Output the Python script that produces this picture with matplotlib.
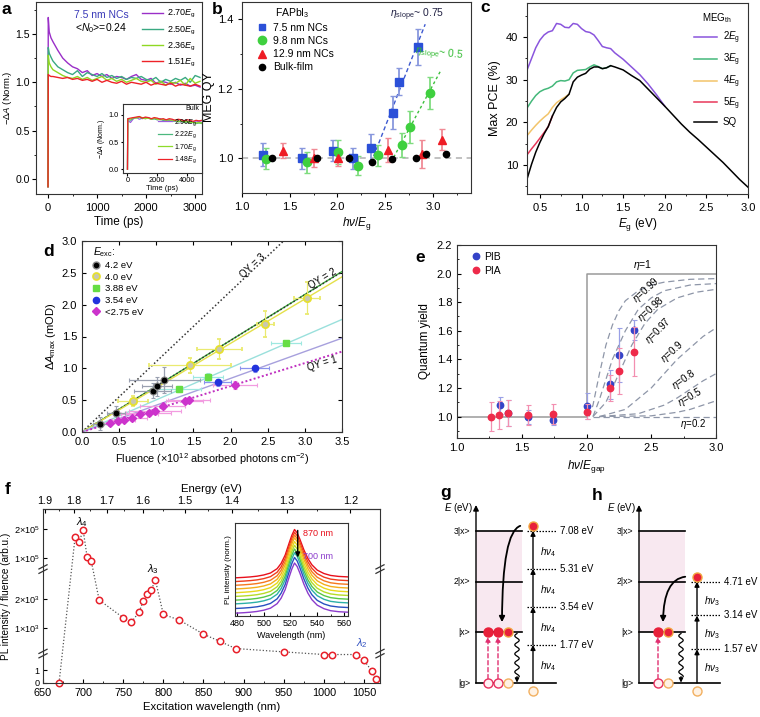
import numpy as np
import matplotlib
matplotlib.use('Agg')
import matplotlib.pyplot as plt
from matplotlib.lines import Line2D
from matplotlib.patches import FancyArrowPatch, Rectangle

plt.rcParams['font.family'] = ['Liberation Sans', 'DejaVu Sans']
plt.rcParams['mathtext.fontset'] = 'custom'
plt.rcParams['mathtext.rm'] = 'Liberation Sans'
plt.rcParams['mathtext.it'] = 'Liberation Sans:italic'
plt.rcParams['mathtext.bf'] = 'Liberation Sans:bold'
plt.rcParams['axes.linewidth'] = 0.8
plt.rcParams['axes.edgecolor'] = '#333333'
plt.rcParams['xtick.major.size'] = 3
plt.rcParams['ytick.major.size'] = 3
plt.rcParams['xtick.minor.size'] = 1.6
plt.rcParams['ytick.minor.size'] = 1.6
plt.rcParams['xtick.labelsize'] = 8
plt.rcParams['ytick.labelsize'] = 8
plt.rcParams['axes.labelsize'] = 8.5

# ===================== DATA =====================
# panel a : transient absorption, 7.5 nm NCs
a_t = [0, 5, 25, 60, 100, 200, 300, 400, 500, 600, 700, 800, 900, 1000, 1100, 1200, 1300, 1400,
       1500, 1600, 1700, 1800, 1900, 2000, 2100, 2200, 2300, 2400, 2500, 2600, 2700, 2800, 2900, 3000, 3100]
a_270 = [-0.08, 1.67, 1.52, 1.46, 1.42, 1.33, 1.25, 1.20, 1.16, 1.14, 1.10, 1.12, 1.07, 1.09, 1.06, 1.08, 1.04, 1.06,
         1.05, 1.03, 1.06, 1.08, 1.03, 1.02, 1.04, 0.99, 1.01, 1.00, 0.98, 1.00, 0.97, 0.99, 0.96, 0.97, 0.95]
a_250 = [-0.08, 1.36, 1.30, 1.26, 1.22, 1.16, 1.13, 1.10, 1.08, 1.12, 1.06, 1.10, 1.08, 1.06, 1.09, 1.05, 1.07, 1.04,
         1.06, 1.03, 1.05, 1.04, 1.06, 1.03, 1.02, 1.05, 1.00, 1.03, 1.01, 1.04, 1.02, 1.05, 1.00, 1.07, 1.05]
a_236 = [-0.08, 1.28, 1.20, 1.16, 1.13, 1.10, 1.07, 1.05, 1.04, 1.06, 1.03, 1.05, 1.02, 1.04, 1.06, 1.02, 1.04, 1.01,
         1.03, 1.00, 1.02, 1.04, 1.01, 1.00, 1.02, 0.98, 1.01, 0.97, 1.00, 0.99, 1.02, 0.97, 1.04, 0.99, 1.01]
a_151 = [-0.08, 1.08, 1.07, 1.06, 1.06, 1.05, 1.04, 1.05, 1.03, 1.04, 1.02, 1.03, 1.01, 1.03, 1.00, 1.02, 1.00, 0.99,
         1.01, 0.98, 1.00, 0.99, 0.98, 1.00, 0.97, 0.99, 0.98, 0.97, 0.99, 0.96, 0.98, 0.97, 0.96, 0.98, 0.96]
a_labels = ['2.70', '2.50', '2.36', '1.51']
# inset: bulk film
ai_t = [0, 20, 200, 400, 600, 800, 1000, 1200, 1400, 1600, 1800, 2000, 2200, 2400, 2600, 2800, 3000,
        3200, 3400, 3600, 3800, 4000, 4200, 4400, 4600, 4800, 5000]
ai_296 = [0, 0.90, 0.86, 0.93, 0.95, 0.92, 0.94, 0.93, 0.95, 0.92, 0.93, 0.91, 0.93, 0.90, 0.91, 0.89, 0.91,
          0.88, 0.90, 0.87, 0.89, 0.88, 0.86, 0.88, 0.87, 0.88, 0.86]
ai_222 = [0, 0.92, 0.90, 0.94, 0.95, 0.96, 0.93, 0.95, 0.94, 0.92, 0.93, 0.91, 0.92, 0.90, 0.89, 0.91, 0.88,
          0.89, 0.87, 0.88, 0.86, 0.87, 0.85, 0.86, 0.84, 0.85, 0.84]
ai_170 = [0, 0.93, 0.92, 0.95, 0.94, 0.96, 0.95, 0.93, 0.94, 0.92, 0.94, 0.92, 0.91, 0.92, 0.90, 0.91, 0.89,
          0.90, 0.88, 0.89, 0.87, 0.88, 0.86, 0.87, 0.85, 0.86, 0.85]
ai_148 = [0, 0.93, 0.94, 0.95, 0.96, 0.97, 0.94, 0.96, 0.95, 0.93, 0.95, 0.94, 0.92, 0.93, 0.91, 0.93, 0.92,
          0.90, 0.92, 0.91, 0.89, 0.91, 0.90, 0.88, 0.90, 0.89, 0.90]
ai_labels = ['2.96', '2.22', '1.70', '1.48']

# panel b : MEG QY vs hv/Eg
b_blue_x = [1.217, 1.626, 1.95, 2.167, 2.352, 2.586, 2.649, 2.848]
b_blue_y = [1.010, 1.000, 1.022, 1.000, 1.031, 1.131, 1.221, 1.321]
b_blue_e = [0.033, 0.030, 0.030, 0.030, 0.040, 0.048, 0.040, 0.052]
b_green_x = [1.252, 1.678, 2.003, 2.220, 2.429, 2.674, 2.761, 2.970]
b_green_y = [0.999, 0.989, 1.019, 0.979, 1.009, 1.039, 1.090, 1.188]
b_green_e = [0.030, 0.030, 0.035, 0.028, 0.030, 0.035, 0.045, 0.045]
b_red_x = [1.434, 1.755, 2.010, 2.534, 2.883, 3.093]
b_red_y = [1.022, 1.001, 1.002, 1.023, 1.012, 1.054]
b_red_e = [0.022, 0.025, 0.025, 0.035, 0.040, 0.030]
b_blk_x = [1.318, 1.783, 2.122, 2.359, 2.569, 2.824, 2.925, 3.138]
b_blk_y = [1.000, 1.000, 1.000, 0.989, 0.999, 1.000, 1.011, 1.011]
b_fit_blue_x = [2.38, 2.92]
b_fit_blue_y = [1.006, 1.386]
b_fit_green_x = [2.59, 3.09]
b_fit_green_y = [1.003, 1.256]

# panel c : max PCE
c_eg = [0.35, 0.4, 0.45, 0.5, 0.55, 0.6, 0.65, 0.7, 0.75, 0.8, 0.85, 0.9, 0.95, 1.0, 1.05, 1.1, 1.15, 1.2, 1.25,
        1.3, 1.35, 1.4, 1.5, 1.6, 1.7, 1.8, 1.9, 2.0, 2.1, 2.2, 2.3, 2.4, 2.5, 2.6, 2.7, 2.8, 2.9, 3.0]
c_sq = [7.0, 10.2, 13.0, 15.3, 17.3, 19.0, 21.5, 23.5, 24.8, 25.6, 26.6, 29.5, 30.6, 31.1, 31.5, 32.5, 33.0, 33.0,
        32.6, 32.8, 33.3, 33.0, 32.3, 31.0, 29.8, 27.8, 25.8, 23.8, 21.7, 19.6, 17.7, 16.0, 14.2, 12.4, 10.6, 8.6, 6.6, 4.8]
c_2eg = [32.5, 35.0, 37.5, 39.3, 40.5, 41.2, 41.5, 43.2, 43.0, 42.3, 42.2, 43.2, 43.0, 42.0, 41.3, 41.1, 40.5, 39.2,
         37.8, 37.5, 37.3, 36.3, 34.8, 33.0, 31.2, 29.0, 26.5, 23.8]
c_3eg = [23.5, 25.0, 26.3, 27.2, 27.7, 28.0, 28.5, 29.5, 29.8, 29.7, 30.0, 31.6, 32.2, 32.3, 32.4, 33.0, 33.5, 33.1,
         32.6, 32.8, 33.3]
c_4eg = [17.0, 18.2, 19.3, 20.3, 21.2, 22.0, 23.5, 24.6, 25.3, 25.9, 26.6]
c_5eg = [12.5, 13.8, 15.0, 16.3, 17.6, 19.0, 21.5]

# panel d : dA_max vs fluence
d_k_x = [0.247, 0.46, 0.95, 1.01, 1.11]
d_k_y = [0.13, 0.305, 0.65, 0.716, 0.816]
d_k_xe = [0.10, 0.12, 0.25, 0.20, 0.48]
d_k_ye = [0.10, 0.10, 0.12, 0.15, 0.20]
d_y_x = [0.686, 1.45, 1.85, 2.47, 3.03]
d_y_y = [0.49, 1.05, 1.305, 1.70, 2.105]
d_y_xe = [0.20, 0.55, 0.30, 0.12, 0.18]
d_y_ye = [0.08, 0.12, 0.16, 0.20, 0.25]
d_g_x = [1.30, 1.70, 2.745]
d_g_y = [0.674, 0.868, 1.395]
d_g_xe = [0.30, 0.20, 0.20]
d_g_ye = [0.05, 0.06, 0.03]
d_b_x = [1.826, 2.324]
d_b_y = [0.779, 1.00]
d_b_xe = [0.18, 0.20]
d_b_ye = [0.05, 0.05]
d_m_x = [0.38, 0.48, 0.56, 0.67, 0.776, 0.897, 0.987, 1.086, 1.38, 1.44, 2.06]
d_m_y = [0.147, 0.174, 0.19, 0.226, 0.279, 0.295, 0.33, 0.41, 0.49, 0.505, 0.742]
d_m_xe = [0.12, 0.10, 0.15, 0.20, 0.25, 0.30, 0.35, 0.30, 0.25, 0.28, 0.30]
d_m_ye = [0.04, 0.04, 0.04, 0.05, 0.05, 0.05, 0.05, 0.05, 0.05, 0.05, 0.06]
d_line_end = {'QY3': 3.87, 'QY2': 2.516, 'QY1': 1.263, 'k': 2.52, 'y': 2.437, 'g': 1.768, 'b': 1.474}
d_legend = ['4.2 eV', '4.0 eV', '3.88 eV', '3.54 eV', '<2.75 eV']

# panel e : quantum yield
e_pib_x = [1.33, 1.39, 1.55, 1.74, 2.0, 2.18, 2.25, 2.37]
e_pib_y = [1.08, 1.025, 0.998, 0.979, 1.073, 1.225, 1.43, 1.605]
e_pib_e = [0.06, 0.09, 0.05, 0.04, 0.09, 0.10, 0.19, 0.07]
e_pia_x = [1.265, 1.325, 1.39, 1.55, 1.74, 2.0, 2.18, 2.25, 2.37]
e_pia_y = [1.0, 1.01, 1.026, 1.012, 1.02, 1.035, 1.198, 1.318, 1.455]
e_pia_e = [0.10, 0.10, 0.09, 0.07, 0.07, 0.05, 0.09, 0.16, 0.17]
e_eta1_x = [1.0, 2.0, 2.0, 3.0]
e_eta1_y = [1.0, 1.0, 2.0, 2.0]
e_curves = {
    '0.99': ([2.02, 2.05, 2.1, 2.15, 2.2, 2.25, 2.3, 2.4, 2.5, 2.6, 2.8, 3.0],
             [1.0, 1.08, 1.3, 1.5, 1.64, 1.74, 1.81, 1.88, 1.92, 1.94, 1.96, 1.965]),
    '0.98': ([2.05, 2.1, 2.2, 2.3, 2.4, 2.5, 2.6, 2.8, 3.0],
             [1.0, 1.12, 1.4, 1.6, 1.75, 1.83, 1.88, 1.92, 1.93]),
    '0.97': ([2.05, 2.15, 2.25, 2.35, 2.45, 2.55, 2.7, 2.85, 3.0],
             [1.0, 1.1, 1.3, 1.5, 1.65, 1.75, 1.83, 1.87, 1.89]),
    '0.9': ([2.1, 2.3, 2.5, 2.6, 2.7, 2.8, 2.9, 3.0],
            [1.0, 1.05, 1.2, 1.3, 1.4, 1.48, 1.56, 1.62]),
    '0.8': ([2.1, 2.4, 2.6, 2.7, 2.8, 2.9, 3.0],
            [1.0, 1.02, 1.08, 1.13, 1.19, 1.25, 1.30]),
    '0.5': ([2.1, 2.5, 2.7, 2.8, 2.9, 3.0],
            [1.0, 1.005, 1.03, 1.05, 1.08, 1.11]),
    '0.2': ([2.05, 3.0], [1.0, 1.0]),
}

# panel f : PLE spectrum
f_wl = [670, 690, 695, 700, 705, 710, 720, 750, 760, 770, 775, 780, 785, 790, 800, 820, 850, 870, 890,
        950, 1000, 1010, 1040, 1050, 1060, 1065]
f_pl = [0, 171600, 153400, 196600, 103400, 92000, 1976, 1353, 1188, 1565, 1953, 2176, 2329, 2682, 1471, 1271,
        776, 529, 271, 153, 2.24, 2.24, 2.24, 1.79, 0.92, 0.34]
f_yticks = [0, 1, 1000, 2000, 100000, 200000]
f_ylabels = ['0', '1', '1×10$^3$', '2×10$^3$', '1×10$^5$', '2×10$^5$']
f_eticks = [1.9, 1.8, 1.7, 1.6, 1.5, 1.4, 1.3, 1.2]
# inset PL spectra (870 nm ... 700 nm excitation)
pl_wl = [478, 485, 490, 495, 500, 505, 510, 513, 516, 519, 521, 523, 525, 527, 530, 533, 536, 540, 545, 550, 556, 563]
pl_shape = [0.0, 0.01, 0.02, 0.035, 0.06, 0.10, 0.19, 0.30, 0.47, 0.72, 0.88, 1.0, 0.93, 0.80, 0.58, 0.40, 0.27,
            0.16, 0.09, 0.05, 0.03, 0.02]
pl_base = [0.41, 0.37, 0.33, 0.29, 0.25, 0.21, 0.17, 0.13, 0.08, 0.03]
pl_peak = [0.93, 0.90, 0.87, 0.84, 0.80, 0.76, 0.72, 0.68, 0.63, 0.57]

# panels g, h : energy diagrams (eV)
lev_E = [0.0, 2.35, 4.70, 7.05]
lev_names = ['|g>', '|x>', '2|x>', '3|x>']
g_photon = [1.77, 3.54, 5.31, 7.08]
h_photon = [1.57, 3.14, 4.71]

# ===================== FIGURE =====================
W, H = 760, 717
fig = plt.figure(figsize=(7.6, 7.17), dpi=100)


def rect(x0, y0, x1, y1):
    return [x0 / W, 1 - y1 / H, (x1 - x0) / W, (y1 - y0) / H]


def ftext(x, y, s, **kw):
    fig.text(x / W, 1 - y / H, s, **kw)


for lab, (x, y) in zip('abcdefgh', [(6, 9), (217, 10), (485, 7), (49, 252), (420, 257), (8, 489), (446, 492), (597, 495)]):
    ftext(x, y, lab, fontsize=12.5, fontweight='bold', ha='center', va='center')

EG = r'$\it{E}_\mathrm{g}$'

# ---------- a ----------
axa = fig.add_axes(rect(36, 2, 202, 194))
a_cols = ['#9a2fc8', '#3aa982', '#8fd823', '#ee2228']
for ys, c, lab in zip([a_270, a_250, a_236, a_151], a_cols, a_labels):
    axa.plot(a_t, ys, color=c, lw=1.0, label=lab + EG)
axa.set_xlim(-245, 3140)
axa.set_ylim(-0.155, 1.83)
axa.set_xticks([0, 1000, 2000, 3000])
axa.set_xticks([500, 1500, 2500], minor=True)
axa.set_yticks([0, 0.5, 1.0, 1.5])
axa.set_yticks([0.25, 0.75, 1.25, 1.75], minor=True)
axa.tick_params(which='both', direction='out')
axa.tick_params(axis='y', labelsize=7.6, pad=1.5)
axa.set_xlabel('Time (ps)', labelpad=2)
axa.set_ylabel('−Δ$\\it{A}$ (Norm.)', fontsize=6.8)
axa.yaxis.set_label_coords((14 - 36) / 166, 0.5)
axa.legend(loc='upper right', frameon=False, fontsize=6.5, handlelength=2.3, labelspacing=0.45,
           borderaxespad=0.3, handletextpad=0.5)
ftext(101, 15, '7.5 nm NCs', fontsize=7.5, color='#3a3ab8', ha='center', va='center')
ftext(101, 28, r'<$\it{N}_\mathrm{0}$>=0.24', fontsize=7.5, ha='center', va='center')

axai = fig.add_axes(rect(123, 104, 202, 173))
axai.set_zorder(5)
ai_cols = ['#9a5ce0', '#4cb87e', '#8edb2a', '#ee2228']
for ys, c, lab in zip([ai_296, ai_222, ai_170, ai_148], ai_cols, ai_labels):
    axai.plot(ai_t, ys, color=c, lw=0.9, label=lab + EG)
axai.set_xlim(-300, 5000)
axai.set_ylim(-0.07, 1.2)
axai.set_xticks([0, 2000, 4000])
axai.set_yticks([0.0, 0.5, 1.0])
axai.tick_params(labelsize=5.3, length=1.8, pad=1)
axai.set_xlabel('Time (ps)', fontsize=5.5, labelpad=1)
axai.set_ylabel('−Δ$\\it{A}$ (Norm.)', fontsize=5, labelpad=1)
axai.legend(loc='lower right', frameon=False, fontsize=5, handlelength=2.0, labelspacing=0.25,
            borderaxespad=0.3, handletextpad=0.4, bbox_to_anchor=(1.0, 0.04))
axai.text(0.96, 0.93, 'Bulk', transform=axai.transAxes, fontsize=5, ha='right', va='center')

# ---------- b ----------
axb = fig.add_axes(rect(242, 2, 471, 193))
axb.axhline(1.0, color='#b0b0b0', ls=(0, (4, 3)), lw=1.1, zorder=0)
axb.plot(b_fit_blue_x, b_fit_blue_y, color='#3e5ad0', ls=(0, (3, 2)), lw=1.0, zorder=1)
axb.plot(b_fit_green_x, b_fit_green_y, color='#3cc03c', ls=(0, (2, 2)), lw=1.0, zorder=1)
eb = dict(capsize=2, elinewidth=1.3, capthick=1.0, zorder=3)
axb.errorbar(b_blue_x, b_blue_y, yerr=b_blue_e, fmt='s', color='#2b50d8', ecolor='#8897dd', ms=5.2, **eb)
axb.errorbar(b_green_x, b_green_y, yerr=b_green_e, fmt='o', color='#3fd03f', ecolor='#7fdc7f', ms=6, **eb)
axb.errorbar(b_red_x, b_red_y, yerr=b_red_e, fmt='^', color='#ee1c25', ecolor='#f08a95', ms=6, **eb)
axb.plot(b_blk_x, b_blk_y, 'o', color='black', ms=4.5, zorder=4)
axb.set_xlim(1.0, 3.4)
axb.set_ylim(0.9, 1.45)
axb.set_xticks([1.0, 1.5, 2.0, 2.5, 3.0])
axb.set_xticks([1.25, 1.75, 2.25, 2.75, 3.25], minor=True)
axb.set_yticks([1.0, 1.2, 1.4])
axb.set_yticks([1.1, 1.3], minor=True)
axb.tick_params(which='both', direction='out')
axb.set_xlabel(r'$\it{h\nu}/\it{E}_\mathrm{g}$', labelpad=2)
axb.set_ylabel('MEG QY', fontsize=9, labelpad=2)
hb = [Line2D([], [], marker='s', color='#2b50d8', ls='', ms=5),
      Line2D([], [], marker='o', color='#3fd03f', ls='', ms=6),
      Line2D([], [], marker='^', color='#ee1c25', ls='', ms=6),
      Line2D([], [], marker='o', color='black', ls='', ms=4.5)]
axb.legend(hb, ['7.5 nm NCs', '9.8 nm NCs', '12.9 nm NCs', 'Bulk-film'], loc='upper left',
           bbox_to_anchor=(257 / W, 1 - 23 / H), bbox_transform=fig.transFigure, frameon=False,
           fontsize=7.5, handlelength=1.0, handletextpad=0.5, labelspacing=0.3, borderaxespad=0, borderpad=0)
ftext(275, 13, r'FAPbI$_3$', fontsize=7.5, ha='left', va='center')
ftext(390, 15, r'$\eta_\mathrm{slope}$~ 0.75', fontsize=7.5, ha='left', va='center', color='#222244')
ftext(414, 54, r'$\eta_\mathrm{slope}$~ 0.5', fontsize=7.5, ha='left', va='center', color='#33bb33', rotation=-6)

# ---------- c ----------
axc = fig.add_axes(rect(527, 3, 748, 194))
c_cols = {'2': '#8a55dd', '3': '#44b87a', '4': '#f2c46a', '5': '#e8385a'}
axc.plot(c_eg[:len(c_2eg)], c_2eg, color=c_cols['2'], lw=1.1, label='2' + EG)
axc.plot(c_eg[:len(c_3eg)], c_3eg, color=c_cols['3'], lw=1.1, label='3' + EG)
axc.plot(c_eg[:len(c_4eg)], c_4eg, color=c_cols['4'], lw=1.1, label='4' + EG)
axc.plot(c_eg[:len(c_5eg)], c_5eg, color=c_cols['5'], lw=1.1, label='5' + EG)
axc.plot(c_eg, c_sq, color='black', lw=1.1, label='SQ')
axc.set_xlim(0.345, 3.0)
axc.set_ylim(3.2, 48)
axc.set_xticks([0.5, 1.0, 1.5, 2.0, 2.5, 3.0])
axc.set_xticks([0.75, 1.25, 1.75, 2.25, 2.75], minor=True)
axc.set_yticks([10, 20, 30, 40])
axc.set_yticks([5, 15, 25, 35, 45], minor=True)
axc.tick_params(which='both', direction='out')
axc.set_xlabel(r'$\it{E}_\mathrm{g}$ (eV)', labelpad=2)
axc.set_ylabel('Max PCE (%)', fontsize=9, labelpad=3)
axc.legend(loc='upper right', frameon=False, fontsize=7, title=r'MEG$_\mathrm{th}$', title_fontsize=7,
           handlelength=2.4, labelspacing=0.55, borderaxespad=0.4, handletextpad=0.6)

# ---------- d ----------
axd = fig.add_axes(rect(82, 241, 342, 432))
xx = [0, 3.5]
axd.plot(xx, [0, d_line_end['QY3']], color='#333333', ls=(0, (1, 1.5)), lw=1.1)
axd.plot(xx, [0, d_line_end['k']], color='#3aa83a', lw=1.0)
axd.plot(xx, [0, d_line_end['QY2']], color='#333333', ls=(0, (1, 1.5)), lw=1.1)
axd.plot(xx, [0, d_line_end['y']], color='#e4e04a', lw=1.0)
axd.plot(xx, [0, d_line_end['g']], color='#9ae0dc', lw=1.0)
axd.plot(xx, [0, d_line_end['b']], color='#a7a0dd', lw=1.0)
axd.plot(xx, [0, d_line_end['QY1']], color='#c030c0', ls=(0, (1, 1.2)), lw=1.4)
ebd = dict(capsize=1.5, elinewidth=0.9, capthick=0.8, ls='')
axd.errorbar(d_m_x, d_m_y, xerr=d_m_xe, yerr=d_m_ye, fmt='D', color='#cc33cc', ecolor='#f29ce0', ms=3.8, **ebd)
axd.errorbar(d_b_x, d_b_y, xerr=d_b_xe, yerr=d_b_ye, fmt='o', color='#2233dd', ecolor='#8a92ee', ms=4.5, **ebd)
axd.errorbar(d_g_x, d_g_y, xerr=d_g_xe, yerr=d_g_ye, fmt='s', color='#66dd44', ecolor='#9ee8e0', ms=4.2, **ebd)
axd.errorbar(d_y_x, d_y_y, xerr=d_y_xe, yerr=d_y_ye, fmt='o', mfc='#c8c8b0', mec='#e6e030', mew=1.3,
             ecolor='#eaea70', ms=5.2, **ebd)
axd.errorbar(d_k_x, d_k_y, xerr=d_k_xe, yerr=d_k_ye, fmt='o', mfc='black', mec='#888888', mew=0.8,
             ecolor='#9aa0b0', ms=5, **ebd)
axd.set_xlim(0, 3.5)
axd.set_ylim(0, 3.0)
axd.set_xticks(np.arange(0, 3.51, 0.5))
axd.set_yticks(np.arange(0, 3.01, 0.5))
axd.tick_params(which='both', direction='in', top=True, right=True, labelsize=8)
axd.set_xlabel('Fluence (×10$^{12}$ absorbed photons cm$^{-2}$)', fontsize=7.8, labelpad=3)
axd.set_ylabel(r'Δ$\it{A}_\mathrm{max}$ (mOD)', fontsize=8, labelpad=3)
hd = [Line2D([], [], marker='o', ls='', mfc='black', mec='#888888', ms=5),
      Line2D([], [], marker='o', ls='', mfc='#c8c8b0', mec='#e6e030', mew=1.3, ms=5),
      Line2D([], [], marker='s', ls='', color='#66dd44', ms=4.2),
      Line2D([], [], marker='o', ls='', color='#2233dd', ms=4.5),
      Line2D([], [], marker='D', ls='', color='#cc33cc', ms=3.8)]
axd.legend(hd, d_legend, loc='upper left', bbox_to_anchor=(92 / W, 1 - 261 / H), bbox_transform=fig.transFigure,
           frameon=False, fontsize=6.8, handlelength=0.8, handletextpad=0.6, labelspacing=0.28,
           borderaxespad=0, borderpad=0)
ftext(93, 252, r'$\it{E}_\mathrm{exc}$:', fontsize=7.5, ha='left', va='center')
ftext(253, 266, 'QY = 3', fontsize=7, ha='center', va='center', rotation=43)
ftext(323, 279, 'QY = 2', fontsize=7, ha='center', va='center', rotation=31)
ftext(322, 364, 'QY = 1', fontsize=7, ha='center', va='center', rotation=17)

# ---------- e ----------
axe = fig.add_axes(rect(457, 245, 716, 438))
axe.plot(e_eta1_x, e_eta1_y, color='#9a9a9a', lw=1.1, zorder=1)
for k, (cx, cy) in e_curves.items():
    axe.plot(cx, cy, color='#8e96a8', ls=(0, (5, 3)), lw=0.9, zorder=1)
ebe = dict(capsize=1.8, elinewidth=0.9, capthick=0.8, ls='')
axe.errorbar(e_pia_x, e_pia_y, yerr=e_pia_e, fmt='o', color='#ee2a4a', ecolor='#f38fb0', ms=4.6, zorder=3, **ebe)
axe.errorbar(e_pib_x, e_pib_y, yerr=e_pib_e, fmt='o', color='#3443c8', ecolor='#9aa0e6', ms=4.6, zorder=2, **ebe)
axe.set_xlim(1.0, 3.0)
axe.set_ylim(0.85, 2.2)
axe.set_xticks([1.0, 1.5, 2.0, 2.5, 3.0])
axe.set_xticks([1.25, 1.75, 2.25, 2.75], minor=True)
axe.set_yticks([1.0, 1.2, 1.4, 1.6, 1.8, 2.0, 2.2])
axe.set_yticks(np.arange(0.9, 2.2, 0.2), minor=True)
axe.tick_params(which='both', direction='in', labelsize=8)
axe.set_xlabel(r'$\it{h\nu}/\it{E}_\mathrm{gap}$', labelpad=4)
axe.set_ylabel('Quantum yield', labelpad=4)
he = [Line2D([], [], marker='o', ls='', color='#3443c8', ms=4.6),
      Line2D([], [], marker='o', ls='', color='#ee2a4a', ms=4.6)]
axe.legend(he, ['PIB', 'PIA'], loc='upper left', bbox_to_anchor=(472 / W, 1 - 252 / H),
           bbox_transform=fig.transFigure, frameon=False, fontsize=7.5, handlelength=0.7, handletextpad=0.5,
           labelspacing=0.35, borderaxespad=0, borderpad=0)
ftext(643, 265, r'$\eta$=1', fontsize=7.5, ha='center', va='center')
for s, (x, y, r) in {'0.99': (646, 290, 42), '0.98': (651, 309, 42), '0.97': (658, 331, 45),
                     '0.9': (672, 352, 42), '0.8': (684, 380, 35), '0.5': (690, 397, 30),
                     '0.2': (693, 424, 0)}.items():
    ftext(x, y, r'$\eta$=' + s, fontsize=7, ha='center', va='center', rotation=r)

# ---------- f ----------
f_V = [0, 2.303, 100, 3059, 63636, 267045]
f_U = [0, 87.5, 88.5, 340, 341, 520]


def f_fwd(v):
    return np.interp(v, f_V, f_U)


def f_inv(u):
    return np.interp(u, f_U, f_V)


axf = fig.add_axes(rect(43, 509, 380, 683))
axf.set_yscale('function', functions=(f_fwd, f_inv))
axf.plot(f_wl, f_pl, color='#555555', ls=(0, (1, 1.6)), lw=0.9, zorder=1)
axf.plot(f_wl, f_pl, 'o', mfc='white', mec='#e8202a', mew=1.1, ms=4.6, ls='', zorder=2, clip_on=False)
axf.set_xlim(650, 1070)
axf.set_ylim(0, 267045)
axf.set_xticks(np.arange(650, 1051, 50))
axf.set_xticks(np.arange(675, 1070, 50), minor=True)
axf.set_yticks(f_yticks)
axf.set_yticklabels(f_ylabels)
axf.yaxis.set_minor_locator(matplotlib.ticker.NullLocator())
axf.tick_params(which='both', direction='in', labelsize=7.8)
axf.tick_params(axis='y', labelsize=6.6, pad=2.5)
axf.set_xlabel('Excitation wavelength (nm)', fontsize=8.2, labelpad=3)
axf.set_ylabel('PL intensity / fluence (arb.u.)', fontsize=7.2)
axf.yaxis.set_label_coords((11 - 43) / 337, 0.5)


def wl2e(x):
    x = np.clip(np.asarray(x, dtype=float), 1e-6, None)
    return 1239.84 / x


secf = axf.secondary_xaxis('top', functions=(wl2e, wl2e))
secf.set_xticks(f_eticks)
secf.set_xticks([1.85, 1.75, 1.65, 1.55, 1.45, 1.35, 1.25, 1.15], minor=True)
secf.tick_params(which='both', direction='in', labelsize=7.8, pad=2)
secf.set_xlabel('Energy (eV)', fontsize=8.2, labelpad=3)
# axis break marks
for v in [45, 30000]:
    for xa in [0, 1]:
        for dy in [-2.2, 2.2]:
            u = f_fwd(v) / 520.0
            axf.plot([xa - 0.012, xa + 0.012], [u + dy / 174 - 0.012, u + dy / 174 + 0.012],
                     transform=axf.transAxes, color='#333333', lw=0.9, clip_on=False, zorder=6)
ftext(82, 522, r'$\lambda_4$', fontsize=8, ha='center', va='center')
ftext(153, 569, r'$\lambda_3$', fontsize=8, ha='center', va='center')
ftext(362, 643, r'$\lambda_2$', fontsize=8, ha='center', va='center', color='#3050c0')

axfi = fig.add_axes(rect(235, 523, 348, 616))
axfi.set_zorder(5)
pl_cols = ['#e8101c', '#f03c1c', '#f6781e', '#f4ae1c', '#e8d81c', '#b6dc28', '#58c846', '#2cb0a8',
           '#2850c0', '#8c3ccc']
shape = np.array(pl_shape)
for b0, pk, c in zip(pl_base, pl_peak, pl_cols):
    axfi.plot(pl_wl, b0 + (pk - b0) * shape, color=c, lw=1.0)
axfi.set_xlim(478.5, 563)
axfi.set_ylim(0, 1)
axfi.set_xticks([480, 500, 520, 540, 560])
axfi.set_xticks([490, 510, 530, 550], minor=True)
axfi.set_yticks([])
axfi.tick_params(which='both', direction='in', labelsize=6.5, pad=2)
axfi.set_xlabel('Wavelength (nm)', fontsize=6.5, labelpad=2)
axfi.set_ylabel('PL intensity (norm.)', fontsize=5.8, labelpad=2)
axfi.annotate('', xy=(0.555, 0.6), xytext=(0.555, 0.95), xycoords='axes fraction',
              arrowprops=dict(arrowstyle='-|>', color='black', lw=1.0, mutation_scale=7))
axfi.text(0.6, 0.89, '870 nm', transform=axfi.transAxes, fontsize=6.5, color='#e8101c', va='center')
axfi.text(0.6, 0.64, '700 nm', transform=axfi.transAxes, fontsize=6.5, color='#8c3ccc', va='center')

# ---------- g, h ----------
PXE = 21.5  # pixels per eV in the diagrams


def diagram(x0, x1, photon, sub, x_axis, x_arrow, circ_x, arc_start, arc_end, wavy_x):
    ax = fig.add_axes(rect(x0, 490, x1, 717))
    ax.set_xlim(x0, x1)
    ax.set_ylim(-(717 - 683) / PXE, (683 - 490) / PXE)
    ax.axis('off')
    top = lev_E[3]
    ax.add_patch(Rectangle((x_axis, lev_E[1]), 46, top - lev_E[1], facecolor='#f8e8f0', edgecolor='none', zorder=0))
    ax.annotate('', xy=(x_axis, (683 - 505) / PXE), xytext=(x_axis, 0), arrowprops=dict(arrowstyle='-|>', lw=1.0,
                color='black', mutation_scale=8, shrinkA=0, shrinkB=0))
    ax.text(x_axis - 3, (683 - 508) / PXE, r'$\it{E}$ (eV)', fontsize=7, ha='right', va='center')
    for E, name in zip(lev_E, lev_names):
        xe = x_arrow + 23 if E == 0 else x_axis + 46
        ax.plot([x_axis, xe], [E, E], color='black', lw=1.2, zorder=2)
        ax.text(x_axis - 6, E, name, fontsize=6.3, ha='right', va='center')
    # photon ladder
    prev = 0.0
    for p in photon:
        ax.plot([x_arrow - 6, x_arrow + 24], [p, p], color='black', ls=(0, (1.2, 1.2)), lw=0.9)
        ax.annotate('', xy=(x_arrow, p), xytext=(x_arrow, prev),
                    arrowprops=dict(arrowstyle='-|>', color='black', lw=1.0, mutation_scale=7, shrinkA=0, shrinkB=0))
        ax.text(x_arrow + 7, (p + prev) / 2 - 0.1, r'$\it{h\nu}_\mathrm{' + sub + '}$', fontsize=7, ha='left',
                va='center')
        ax.text(x_arrow + 27, p, f'{p:.2f} eV', fontsize=7, ha='left', va='center')
        prev = p
    # carriers
    red, orange = '#e8203a', '#f2a640'
    for i, cx in enumerate(circ_x):
        last = i == len(circ_x) - 1
        ax.plot(cx, lev_E[1], 'o', ms=6.5, mfc=red, mec=orange if last else red, mew=1.0, zorder=4)
        if last:
            ax.plot(cx, 0, 'o', ms=6.5, mfc='#fff2e4', mec='#f2b060', mew=1.0, zorder=4)
        else:
            ax.plot(cx, 0, 'o', ms=6.5, mfc='#fff0f4', mec='#e8305e', mew=1.0, zorder=4)
            ax.annotate('', xy=(cx, lev_E[1] - 0.2), xytext=(cx, 0.2),
                        arrowprops=dict(arrowstyle='-|>', color='#e03070', lw=1.0, ls=(0, (3, 2)),
                                        mutation_scale=7, shrinkA=0, shrinkB=0))
    ax.plot(x_arrow, photon[-1] + 0.2, 'o', ms=6.5, mfc=red, mec=orange, mew=1.0, zorder=4)
    ax.plot(x_arrow, -0.35, 'o', ms=6.5, mfc='#fff2e4', mec='#f2b060', mew=1.0, zorder=4)
    ax.add_patch(FancyArrowPatch(arc_start, arc_end, connectionstyle='angle3,angleA=180,angleB=90',
                                 arrowstyle='-|>', mutation_scale=8, lw=1.3, color='black', zorder=5))
    ee = np.linspace(lev_E[1] - 0.05, 0.3, 120)
    ax.plot(wavy_x + 2.2 * np.sin((ee - ee[0]) * 2 * np.pi / 0.42), ee, color='black', lw=0.9)
    ax.annotate('', xy=(wavy_x, 0.02), xytext=(wavy_x, 0.3),
                arrowprops=dict(arrowstyle='-|>', color='black', lw=0.9, mutation_scale=6, shrinkA=0, shrinkB=0))


diagram(430, 600, g_photon, '4', 476, 533, [488, 498, 508], (523, 7.33), (502, 2.7), 517)
diagram(600, 760, h_photon, '3', 639, 697, [658, 668], (688, 4.95), (663, 2.7), 681)

fig.savefig('out.png', dpi=100)
